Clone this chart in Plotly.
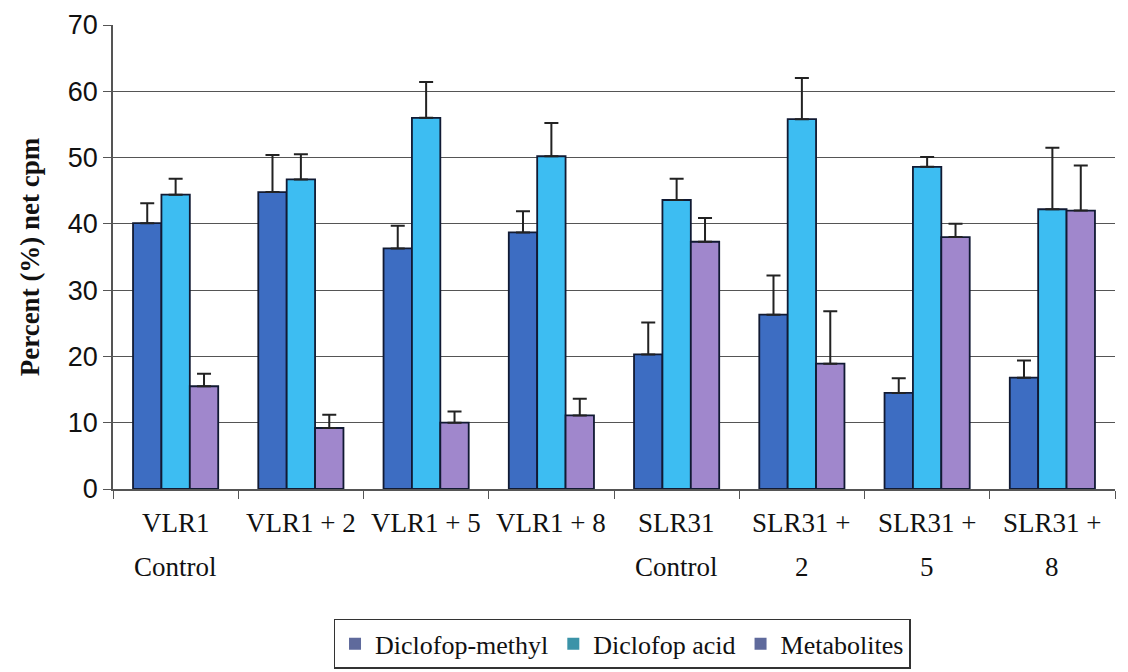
import plotly.graph_objects as go

categories = ["VLR1 Control", "VLR1 + 2", "VLR1 + 5", "VLR1 + 8",
              "SLR31 Control", "SLR31 + 2", "SLR31 + 5", "SLR31 + 8"]
label_line1 = ["VLR1", "VLR1 + 2", "VLR1 + 5", "VLR1 + 8", "SLR31", "SLR31 +", "SLR31 +", "SLR31 +"]
label_line2 = ["Control", "", "", "", "Control", "2", "5", "8"]

series_names = ["Diclofop-methyl", "Diclofop acid", "Metabolites"]
diclofop_methyl = [40.1, 44.8, 36.3, 38.7, 20.3, 26.3, 14.5, 16.8]
diclofop_methyl_err = [3.0, 5.6, 3.4, 3.2, 4.8, 5.9, 2.2, 2.6]
diclofop_acid = [44.4, 46.7, 56.0, 50.2, 43.6, 55.8, 48.6, 42.2]
diclofop_acid_err = [2.4, 3.8, 5.4, 5.0, 3.2, 6.2, 1.5, 9.3]
metabolites = [15.5, 9.2, 10.0, 11.1, 37.3, 18.9, 38.0, 42.0]
metabolites_err = [1.9, 2.0, 1.7, 2.5, 3.6, 7.9, 2.0, 6.8]

y_ticks = [0, 10, 20, 30, 40, 50, 60, 70]

bar_colors = ["#3d6dc2", "#3dbdf2", "#a087cc"]
legend_colors = ["#5f6a9c", "#3b93a8", "#5f6a9c"]

fig = go.Figure()
for name, vals, errs, col in zip(series_names,
                                 [diclofop_methyl, diclofop_acid, metabolites],
                                 [diclofop_methyl_err, diclofop_acid_err, metabolites_err],
                                 bar_colors):
    fig.add_trace(go.Bar(
        x=categories, y=vals, name=name, showlegend=False,
        marker=dict(color=col, line=dict(color="#111a33", width=1.8)),
        error_y=dict(type="data", symmetric=False, array=errs,
                     arrayminus=[0] * len(errs), color="#222222",
                     thickness=2, width=7),
    ))

for name, col in zip(series_names, legend_colors):
    fig.add_trace(go.Scatter(
        x=[None], y=[None], mode="markers", name=name,
        marker=dict(symbol="square", size=15, color=col),
    ))

serif = "Liberation Serif, Times New Roman, serif"
for c, l1, l2 in zip(categories, label_line1, label_line2):
    fig.add_annotation(x=c, xref="x", y=-0.073, yref="paper", text=l1,
                       showarrow=False, yanchor="middle",
                       font=dict(family=serif, size=27, color="#111"))
    if l2:
        fig.add_annotation(x=c, xref="x", y=-0.168, yref="paper", text=l2,
                           showarrow=False, yanchor="middle",
                           font=dict(family=serif, size=27, color="#111"))

fig.update_layout(
    width=1128, height=672,
    margin=dict(l=113, r=13, t=25, b=183, autoexpand=False),
    paper_bgcolor="white", plot_bgcolor="white",
    barmode="group", bargap=0.32, bargroupgap=0.0,
    showlegend=True,
    legend=dict(orientation="h", x=0.508, xanchor="center", y=-0.28, yanchor="top",
                bordercolor="#333", borderwidth=1.5, bgcolor="white",
                font=dict(family=serif, size=26, color="#111"),
                itemsizing="constant", traceorder="normal"),
    xaxis=dict(showticklabels=False, ticks="outside", tickson="boundaries",
               ticklen=8, tickcolor="#555", showline=True, linecolor="#555",
               linewidth=1.5, showgrid=False),
    yaxis=dict(range=[0, 70], tickvals=y_ticks, ticks="outside", ticklen=8,
               tickcolor="#555", showline=True, linecolor="#555", linewidth=1.5,
               showgrid=True, gridcolor="#555", gridwidth=1.2, zeroline=False,
               automargin=False,
               tickfont=dict(family="Liberation Sans, Arial, sans-serif", size=27, color="#111"),
               title=dict(text="<b>Percent (%) net cpm</b>", standoff=20,
                          font=dict(family=serif, size=27, color="#111"))),
)

fig.write_html("out.html")
